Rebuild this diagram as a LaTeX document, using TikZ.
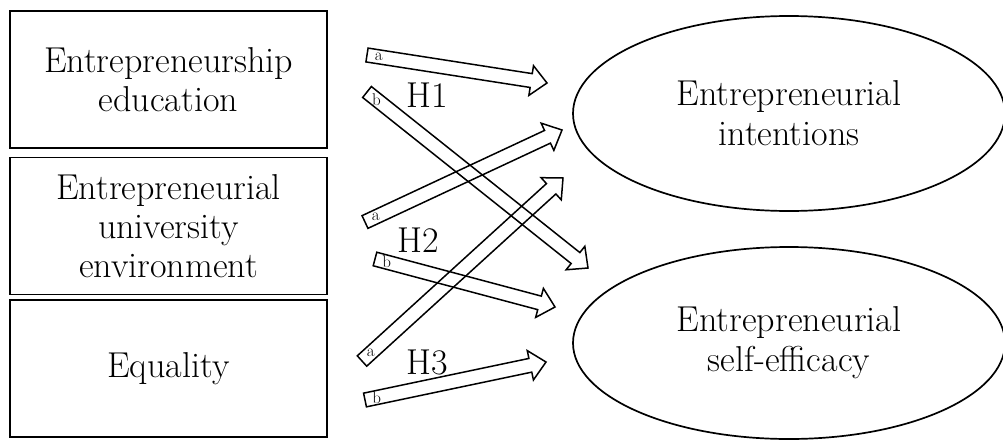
\documentclass[tikz,border=0pt]{standalone}
\usetikzlibrary{shapes.geometric,calc}
\tikzset{
  boxnode/.style={draw, line width=1.7pt, minimum width=317pt, minimum height=137pt, inner sep=0pt, align=center, font=\fontsize{36}{39}\selectfont},
  ellnode/.style={draw, ellipse, line width=1.7pt, minimum width=432pt, inner sep=0pt, align=center, font=\fontsize{36}{40}\selectfont},
  arrowline/.style={draw, line width=1.5pt, line join=miter},
  hyp/.style={font=\fontsize{36}{39}\selectfont, inner sep=0pt},
  small/.style={font=\fontsize{17}{17}\selectfont, inner sep=0pt}
}
\def\sw{7pt}
\def\hw{15pt}
\def\hl{16pt}
\newcommand\blockarr[3]{%
  \coordinate (#1n) at ($(#2)!\hl!(#1)$);
  \draw[arrowline] ($(#1)!\sw!90:(#2)$) -- ($(#1n)!\sw!90:(#2)$) -- ($(#1n)!\hw!90:(#2)$) -- (#2)
    -- ($(#1n)!\hw!-90:(#2)$) -- ($(#1n)!\sw!-90:(#2)$) -- ($(#1)!\sw!-90:(#2)$) -- cycle;
  \node[small] (#1lab) at ($(#1)!12pt!(#2)$) {#3};
}
\begin{document}
\begin{tikzpicture}[x=1pt,y=-1pt]
\useasboundingbox (0,0) rectangle (1003,439);
% boxes
\node[boxnode] (edu) at (168.5,79.5) {Entrepreneurship\\education};
\node[boxnode] (env) at (168.5,226) {Entrepreneurial\\university\\environment};
\node[boxnode] (eq) at (168.5,368.5) {Equality};
% ellipses
\node[ellnode, minimum height=195pt] (int) at (789,113.5) {Entrepreneurial\\intentions};
\node[ellnode, minimum height=192pt] (se) at (789,343) {Entrepreneurial\\self-efficacy};
% arrow end points
\coordinate (t1a) at (367,55);  \coordinate (p1a) at (547,83);
\coordinate (t1b) at (367,92);  \coordinate (p1b) at (588,268);
\coordinate (t2a) at (365,222); \coordinate (p2a) at (562,130);
\coordinate (t2b) at (375,259); \coordinate (p2b) at (555,307);
\coordinate (t3a) at (362,361); \coordinate (p3a) at (563,178);
\coordinate (t3b) at (365,400); \coordinate (p3b) at (546,362);
\blockarr{t1a}{p1a}{a}
\blockarr{t1b}{p1b}{b}
\blockarr{t2a}{p2a}{a}
\blockarr{t2b}{p2b}{b}
\blockarr{t3a}{p3a}{a}
\blockarr{t3b}{p3b}{b}
% hypothesis labels
\node[hyp] (h1) at (427,95) {H1};
\node[hyp] (h2) at (418,240) {H2};
\node[hyp] (h3) at (427,362) {H3};
\end{tikzpicture}
\end{document}
